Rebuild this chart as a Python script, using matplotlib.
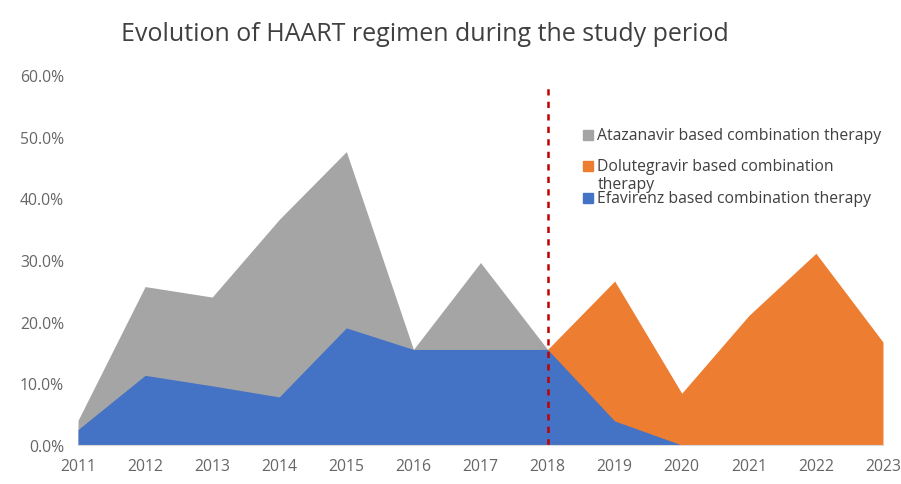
import numpy as np
import matplotlib.pyplot as plt
from matplotlib.patches import Rectangle

plt.rcParams['font.family'] = ['Open Sans', 'DejaVu Sans']

years = [2011, 2012, 2013, 2014, 2015, 2016, 2017, 2018, 2019, 2020, 2021, 2022, 2023]
# share of patients (%) per regimen
atazanavir = [4.0, 25.7, 24.0, 36.6, 47.6, 15.5, 29.6, 15.5, 0, 0, 0, 0, 0]
dolutegravir = [0, 0, 0, 0, 0, 0, 0, 15.5, 26.6, 8.4, 21.0, 31.1, 16.7]
efavirenz = [2.5, 11.3, 9.6, 7.8, 19.0, 15.5, 15.5, 15.5, 3.9, 0, 0, 0, 0]

labels = ["Atazanavir based combination therapy",
          "Dolutegravir based combination\ntherapy",
          "Efavirenz based combination therapy"]
colors = ["#A5A5A5", "#ED7D31", "#4472C4"]
cutoff_year = 2018

fig = plt.figure(figsize=(9.01, 4.85), dpi=100)
ax = fig.add_axes([0.0866, 0.0804, 0.8934, 0.7626])

x = np.array(years)
ax.fill_between(x, atazanavir, color=colors[0], lw=0)
ax.fill_between(x, dolutegravir, color=colors[1], lw=0)
ax.fill_between(x, efavirenz, color=colors[2], lw=0)

ax.plot([cutoff_year, cutoff_year], [0, 58.3], color="#C00000",
        ls=(0, (2.5, 2.5)), lw=1.8)

ax.set_xlim(2011, 2023)
ax.set_ylim(0, 60)
ax.set_xticks(years)
ax.set_yticks(np.arange(0, 61, 10))
ax.set_yticklabels([f"{v:.1f}%" for v in np.arange(0, 61, 10)])
ax.tick_params(colors="#666666", labelsize=11.3, length=0)
ax.tick_params(axis="y", pad=10)
ax.tick_params(axis="x", pad=9)
for s in ["top", "right", "left"]:
    ax.spines[s].set_visible(False)
ax.spines["bottom"].set_color("#D9D9D9")

fig.text(0.472, 0.928, "Evolution of HAART regimen during the study period",
         ha="center", va="center", fontsize=18, color="#404040")

# legend, drawn by hand to match the wrapped layout
ys = [0.720, 0.656, 0.589]
for lab, c, yy in zip(labels, colors, ys):
    fig.patches.append(Rectangle((0.647, yy - 0.010), 0.011, 0.020,
                                 transform=fig.transFigure, color=c))
    if "\n" in lab:
        fig.text(0.663, yy + 0.016, lab, ha="left", va="top",
                 fontsize=11.3, color="#404040", linespacing=1.15)
    else:
        fig.text(0.663, yy, lab, ha="left", va="center",
                 fontsize=11.3, color="#404040")

fig.savefig("out.png", dpi=100)
